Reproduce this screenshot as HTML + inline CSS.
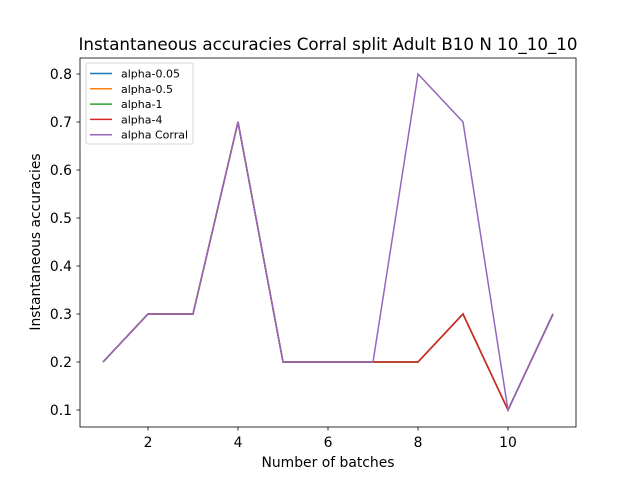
<!DOCTYPE html>
<html><head><meta charset="utf-8"><style>
body{margin:0;background:#fff;font-family:"Liberation Sans","DejaVu Sans",sans-serif}
svg text{font-family:"DejaVu Sans","Liberation Sans",sans-serif}
</style></head><body>
<svg id="chart" width="640" height="480">
<rect x="0" y="0" width="640" height="480" fill="#fff"/>
<text x="328" y="50" font-size="16.7" text-anchor="middle">Instantaneous accuracies Corral split Adult B10 N 10_10_10</text>
<g id="ticks"></g>
<g id="lines"></g>
<rect x="80" y="58" width="496" height="369" fill="none" stroke="#000" stroke-width="0.8"/>
<text x="328" y="467" font-size="13.9" text-anchor="middle">Number of batches</text>
<text transform="translate(40,242) rotate(-90)" font-size="13.9" text-anchor="middle">Instantaneous accuracies</text>
<g id="legend"></g>
</svg>
<script>
const batches=[1,2,3,4,5,6,7,8,9,10,11];
const alpha005=[0.2,0.3,0.3,0.7,0.2,0.2,0.2,0.2,0.3,0.1,0.3];
const alpha05=[0.2,0.3,0.3,0.7,0.2,0.2,0.2,0.2,0.3,0.1,0.3];
const alpha1=[0.2,0.3,0.3,0.7,0.2,0.2,0.2,0.2,0.3,0.1,0.3];
const alpha4=[0.2,0.3,0.3,0.7,0.2,0.2,0.2,0.2,0.3,0.1,0.3];
const alphaCorral=[0.2,0.3,0.3,0.7,0.2,0.2,0.2,0.8,0.7,0.1,0.3];
const xTicks=[2,4,6,8,10];
const yTicks=[0.1,0.2,0.3,0.4,0.5,0.6,0.7,0.8];
const seriesNames=["alpha-0.05","alpha-0.5","alpha-1","alpha-4","alpha Corral"];
const colors=["#1f77b4","#ff7f0e","#2ca02c","#d62728","#9467bd"];
const NS="http://www.w3.org/2000/svg";
const xs=v=>103+(v-1)*45;
const ys=v=>410-(v-0.1)*480;
function mk(tag,attrs,parent){const e=document.createElementNS(NS,tag);for(const k in attrs)e.setAttribute(k,attrs[k]);parent.appendChild(e);return e;}
const tg=document.getElementById('ticks');
xTicks.forEach(t=>{
 const l=mk('line',{x1:xs(t),x2:xs(t),y1:427,y2:430.5,stroke:'#000','stroke-width':0.8},tg);
 
 
 const tx=mk('text',{x:xs(t),y:447,'font-size':13.9,'text-anchor':'middle'},tg);tx.textContent=t;
 
 
});
yTicks.forEach(t=>{
 const l=mk('line',{x1:76.5,x2:80,y1:ys(t),y2:ys(t),stroke:'#000','stroke-width':0.8},tg);
 
 
 const tx=mk('text',{x:72,y:ys(t)+5,'font-size':13.9,'text-anchor':'end'},tg);tx.textContent=t.toFixed(1);
 
 
});
const lg=document.getElementById('lines');
[alpha005,alpha05,alpha1,alpha4,alphaCorral].forEach((s,i)=>{
 const p=mk('polyline',{points:s.map((v,j)=>xs(batches[j])+','+ys(v)).join(' '),fill:'none',stroke:colors[i],'stroke-width':1.5},lg);
 
 
});
const leg=document.getElementById('legend');
const box=mk('rect',{x:86,y:63,width:107,height:81,fill:'#fff',stroke:'#ccc','stroke-width':0.8,rx:2},leg);


seriesNames.forEach((n,i)=>{
 const y=73.5+i*15.3;
 mk('line',{x1:90,x2:112,y1:y,y2:y,stroke:colors[i],'stroke-width':1.5},leg);
 const t=mk('text',{x:121,y:y+4,'font-size':11},leg);t.textContent=n;
 
 
});
</script>
</body></html>
